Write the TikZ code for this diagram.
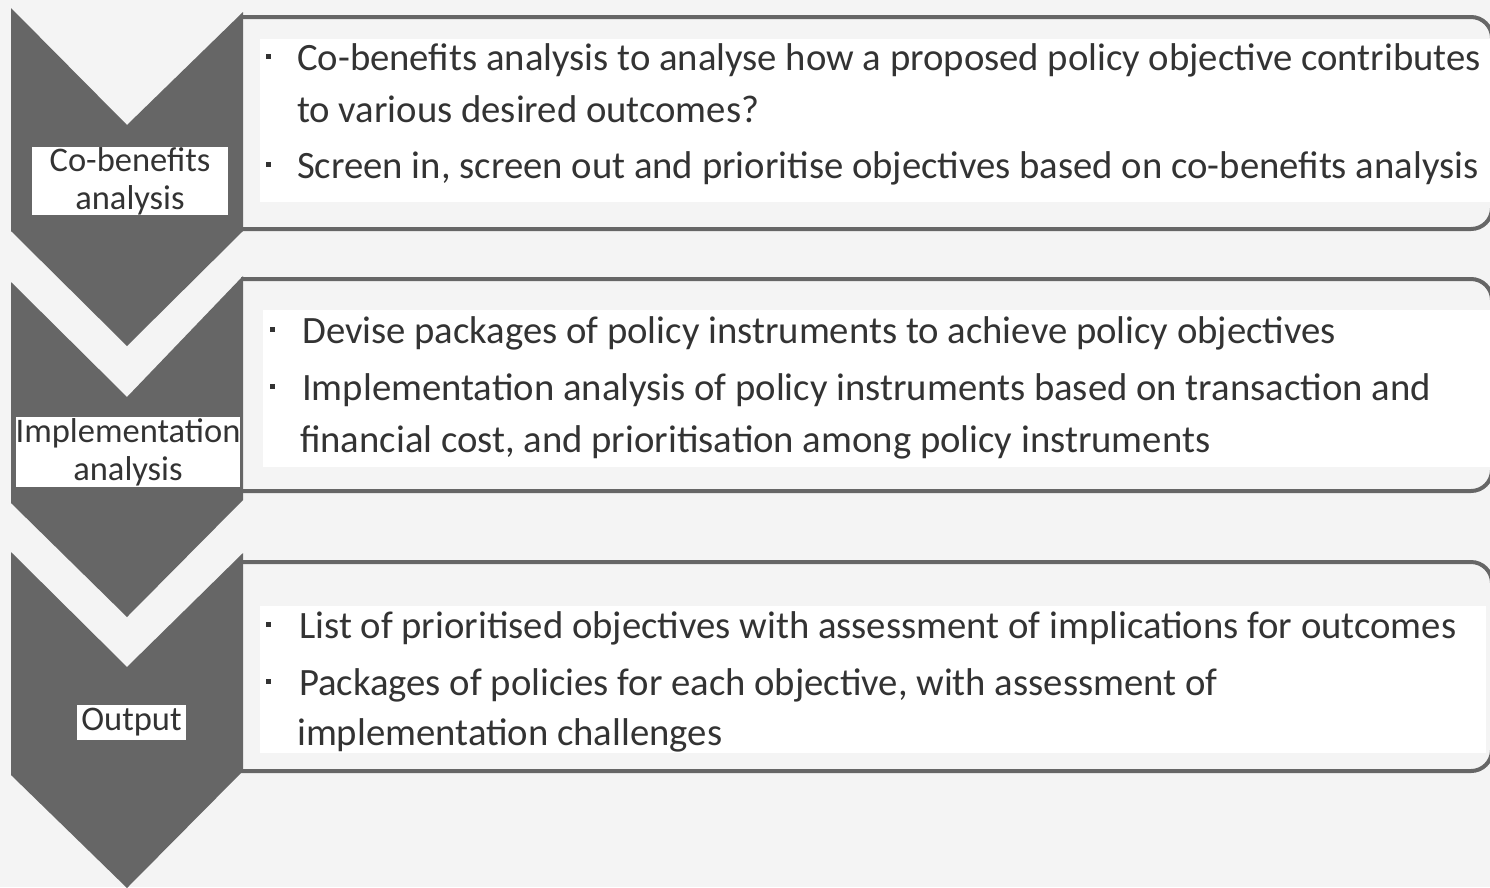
\documentclass[tikz,border=0pt]{standalone}
\usepackage{fontspec}
\setmainfont{Carlito}
\definecolor{bg}{HTML}{F4F4F4}
\definecolor{chev}{HTML}{666666}
\definecolor{txt}{HTML}{333333}
\tikzset{
  chevron/.style={fill=chev, draw=none},
  frame/.style={draw=chev, line width=4pt, fill=bg, rounded corners=21pt},
  inner/.style={fill=white, draw=none},
  bul/.style={fill=txt, draw=none, minimum size=5pt, inner sep=0pt, rectangle},
  line/.style={anchor=base west, inner sep=0pt, text=txt, font=\fontsize{38.7}{44}\selectfont},
  lab/.style={fill=white, inner sep=0pt, text=txt, align=center, font=\fontsize{34.5}{38}\selectfont},
}
\begin{document}
\begin{tikzpicture}[x=1pt,y=-1pt]
\useasboundingbox[fill=bg] (0,0) rectangle (1490,887);
% frames
\draw[frame] (241,17) -- (1492,17) -- (1492,229) -- (241,229);
\draw[frame] (241,279) -- (1492,279) -- (1492,491) -- (241,491);
\draw[frame] (241,562) -- (1492,562) -- (1492,771) -- (241,771);
% inner white panels
\fill[inner] (260,39) rectangle (1490,202);
\fill[inner] (263,310) rectangle (1490,467);
\fill[inner] (260,606) rectangle (1486,753);
% chevrons
\fill[chevron] (11,8) -- (127,125) -- (243,12) -- (243,231) -- (127,346) -- (11,231) -- cycle;
\fill[chevron] (11,282) -- (127,397) -- (243,276) -- (243,500) -- (127,617) -- (11,503) -- cycle;
\fill[chevron] (11,552) -- (127,667) -- (243,553) -- (243,771) -- (127,888) -- (11,775) -- cycle;
% labels
\node[lab, minimum width=196pt, minimum height=66pt] (l1) at (130,181) {Co-benefits\\analysis};
\node[lab, minimum width=224pt, minimum height=70pt] (l2) at (128,452) {Implementation\\analysis};
\node[lab, minimum width=109pt, minimum height=35pt] (l3) at (131.5,722.5) {Output};
% box 1
\node[bul] (b1) at (268,56) {};
\node[line] (t1a) at (297,70) {Co-benefits analysis to analyse how a proposed policy objective contributes};
\node[line] (t1b) at (297,122) {to various desired outcomes?};
\node[bul] (b2) at (268,164) {};
\node[line] (t2) at (297,178) {Screen in, screen out and prioritise objectives based on co-benefits analysis};
% box 2
\node[bul] (b3) at (272,329) {};
\node[line] (t3) at (302,343) {Devise packages of policy instruments to achieve policy objectives};
\node[bul] (b4) at (272,386) {};
\node[line] (t4a) at (302,400) {Implementation analysis of policy instruments based on transaction and};
\node[line] (t4b) at (300,452) {financial cost, and prioritisation among policy instruments};
% box 3
\node[bul] (b5) at (268,624) {};
\node[line] (t5) at (299,638) {List of prioritised objectives with assessment of implications for outcomes};
\node[bul] (b6) at (268,681) {};
\node[line] (t6a) at (299,695) {Packages of policies for each objective, with assessment of};
\node[line] (t6b) at (297,745) {implementation challenges};
\end{tikzpicture}
\end{document}
